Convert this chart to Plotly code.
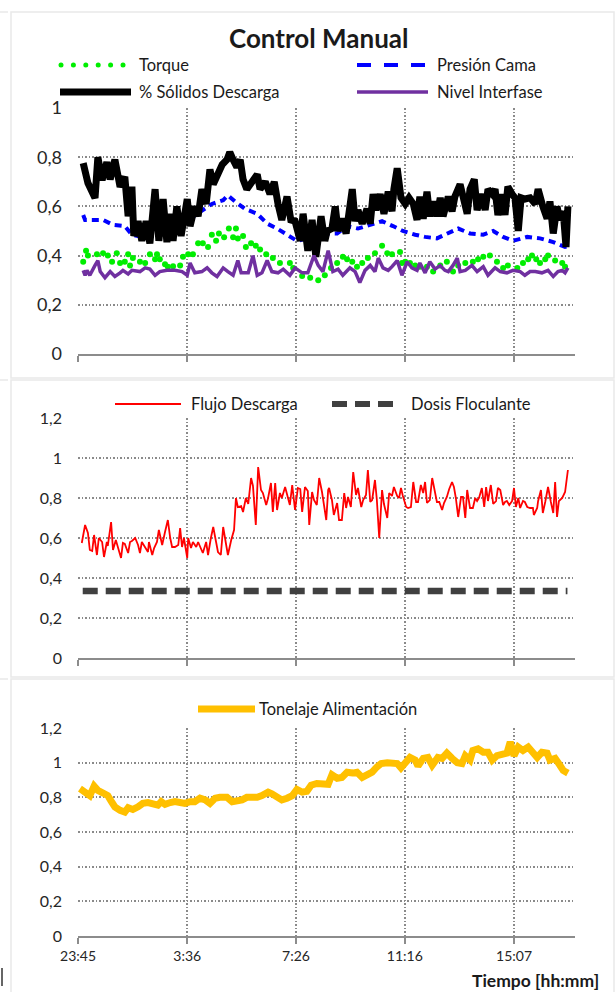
import plotly.graph_objects as go

W, H = 615, 992

# ---- time axis (minutes after 23:45) ----
tick_minutes = [0, 231, 461, 691, 922]
tick_labels = ["23:45", "3:36", "7:26", "11:16", "15:07"]

# ---- panel 1 : Control Manual ----
torque_t = [11, 17, 21, 40, 53, 63, 72, 82, 89, 99, 106, 110, 116, 131, 142, 152, 163, 167, 173, 184,
            190, 201, 216, 222, 233, 243, 254, 264, 275, 283, 292, 298, 309, 319, 328, 334, 338, 349,
            355, 366, 376, 385, 398, 412, 427, 448, 455, 474, 491, 508, 522, 535, 548, 560, 569, 580,
            590, 601, 613, 628, 643, 654, 664, 681, 685, 692, 702, 713, 723, 738, 751, 766, 780, 793,
            804, 819, 835, 846, 857, 871, 886, 899, 909, 929, 941, 952, 960, 969, 977, 988, 994, 1009,
            1024, 1030]
torque = [0.375, 0.42, 0.40, 0.405, 0.41, 0.40, 0.375, 0.41, 0.37, 0.375, 0.405, 0.36, 0.39, 0.375,
          0.37, 0.405, 0.385, 0.405, 0.385, 0.365, 0.355, 0.357, 0.36, 0.395, 0.405, 0.405, 0.45, 0.45,
          0.435, 0.485, 0.46, 0.49, 0.475, 0.51, 0.475, 0.51, 0.47, 0.48, 0.435, 0.45, 0.44, 0.425,
          0.405, 0.39, 0.37, 0.37, 0.35, 0.317, 0.31, 0.30, 0.32, 0.35, 0.37, 0.395, 0.385, 0.375,
          0.355, 0.37, 0.39, 0.41, 0.44, 0.41, 0.405, 0.415, 0.37, 0.375, 0.37, 0.36, 0.355, 0.355,
          0.335, 0.36, 0.375, 0.335, 0.36, 0.37, 0.375, 0.385, 0.395, 0.40, 0.375, 0.35, 0.36, 0.35,
          0.37, 0.385, 0.40, 0.385, 0.37, 0.385, 0.40, 0.38, 0.37, 0.355]

presion_t = [11, 15, 36, 53, 74, 99, 114, 135, 157, 178, 205, 233, 262, 283, 307, 317, 332, 353, 379,
             400, 421, 442, 463, 484, 505, 527, 548, 569, 592, 618, 643, 666, 687, 713, 734, 759, 780,
             804, 829, 857, 878, 899, 920, 950, 977, 1005, 1030, 1041]
presion = [0.565, 0.545, 0.545, 0.545, 0.525, 0.52, 0.485, 0.476, 0.49, 0.495, 0.50, 0.545, 0.585,
           0.61, 0.625, 0.645, 0.62, 0.59, 0.57, 0.53, 0.51, 0.485, 0.46, 0.47, 0.48, 0.49, 0.49,
           0.52, 0.51, 0.525, 0.54, 0.52, 0.50, 0.485, 0.476, 0.47, 0.49, 0.51, 0.49, 0.485, 0.50,
           0.476, 0.46, 0.476, 0.47, 0.455, 0.435, 0.44]

solidos_t = [11, 21, 36, 42, 51, 61, 68, 78, 89, 99, 106, 114, 118, 127, 135, 144, 152, 163, 171, 180,
             188, 195, 201, 209, 218, 231, 237, 247, 254, 262, 271, 279, 286, 296, 305, 315, 321, 328,
             336, 343, 349, 357, 368, 379, 385, 396, 406, 415, 423, 431, 442, 450, 459, 470, 476, 486,
             495, 503, 514, 522, 527, 537, 544, 550, 558, 567, 580, 586, 592, 601, 611, 618, 624, 630,
             639, 647, 656, 664, 668, 675, 683, 692, 700, 709, 717, 723, 730, 738, 744, 751, 759, 766,
             772, 783, 791, 797, 808, 816, 823, 829, 838, 844, 854, 861, 867, 876, 882, 888, 897, 903,
             909, 918, 924, 931, 937, 945, 956, 967, 973, 983, 992, 998, 1005, 1013, 1019, 1026, 1032,
             1036]
solidos = [0.776, 0.695, 0.634, 0.80, 0.707, 0.78, 0.71, 0.79, 0.68, 0.72, 0.56, 0.68, 0.48, 0.54,
           0.46, 0.54, 0.45, 0.67, 0.46, 0.63, 0.455, 0.57, 0.46, 0.60, 0.48, 0.63, 0.52, 0.60, 0.56,
           0.67, 0.61, 0.75, 0.69, 0.73, 0.77, 0.79, 0.82, 0.79, 0.76, 0.79, 0.71, 0.67, 0.695, 0.73,
           0.67, 0.70, 0.65, 0.70, 0.61, 0.545, 0.64, 0.545, 0.54, 0.46, 0.57, 0.42, 0.545, 0.395,
           0.56, 0.46, 0.50, 0.51, 0.60, 0.50, 0.55, 0.49, 0.67, 0.54, 0.585, 0.53, 0.59, 0.53, 0.65,
           0.585, 0.65, 0.57, 0.66, 0.58, 0.67, 0.755, 0.635, 0.61, 0.635, 0.61, 0.545, 0.64, 0.55,
           0.66, 0.56, 0.62, 0.56, 0.635, 0.56, 0.64, 0.58, 0.64, 0.69, 0.635, 0.57, 0.67, 0.71,
           0.585, 0.65, 0.585, 0.67, 0.65, 0.67, 0.565, 0.65, 0.565, 0.68, 0.65, 0.635, 0.50, 0.635,
           0.63, 0.635, 0.61, 0.67, 0.60, 0.55, 0.62, 0.49, 0.60, 0.545, 0.58, 0.435, 0.60]

nivel_t = [11, 15, 19, 25, 36, 42, 47, 57, 68, 78, 89, 95, 106, 114, 131, 142, 152, 163, 173, 188,
           205, 220, 231, 237, 247, 262, 273, 283, 294, 307, 317, 328, 338, 345, 360, 370, 379, 389,
           400, 410, 423, 434, 448, 459, 474, 486, 499, 508, 518, 529, 539, 550, 560, 575, 586, 596,
           607, 618, 628, 635, 645, 656, 664, 675, 685, 696, 706, 717, 723, 734, 744, 755, 766, 776,
           783, 793, 802, 808, 819, 833, 844, 857, 867, 882, 893, 907, 920, 935, 945, 956, 967, 981,
           994, 1005, 1015, 1024, 1030, 1036]
nivel = [0.34, 0.32, 0.34, 0.32, 0.36, 0.38, 0.335, 0.31, 0.335, 0.315, 0.33, 0.34, 0.325, 0.34,
         0.335, 0.35, 0.345, 0.32, 0.335, 0.34, 0.34, 0.335, 0.32, 0.37, 0.33, 0.335, 0.35, 0.33,
         0.315, 0.35, 0.335, 0.32, 0.38, 0.33, 0.33, 0.40, 0.32, 0.33, 0.38, 0.335, 0.33, 0.345,
         0.32, 0.35, 0.33, 0.33, 0.40, 0.36, 0.335, 0.42, 0.335, 0.345, 0.32, 0.35, 0.335, 0.29,
         0.34, 0.36, 0.335, 0.39, 0.35, 0.34, 0.355, 0.38, 0.32, 0.375, 0.35, 0.34, 0.37, 0.33,
         0.375, 0.345, 0.36, 0.34, 0.335, 0.36, 0.39, 0.335, 0.34, 0.36, 0.335, 0.355, 0.32, 0.35,
         0.335, 0.33, 0.34, 0.335, 0.32, 0.335, 0.335, 0.33, 0.34, 0.315, 0.335, 0.34, 0.33, 0.35]

# ---- panel 2 ----
flujo_t = [8, 15, 21, 25, 30, 34, 40, 44, 51, 55, 61, 63, 70, 74, 80, 85, 91, 95, 99, 106, 110, 114,
           121, 127, 131, 135, 142, 148, 150, 157, 161, 167, 171, 178, 184, 190, 195, 199, 205, 212,
           216, 220, 224, 231, 233, 239, 243, 250, 254, 260, 264, 271, 275, 281, 286, 292, 296, 302,
           307, 313, 317, 324, 330, 334, 338, 345, 349, 355, 360, 366, 370, 376, 381, 387, 391, 398,
           402, 408, 412, 417, 421, 427, 431, 438, 444, 448, 453, 459, 465, 470, 474, 480, 486, 489,
           495, 499, 505, 510, 516, 520, 525, 529, 531, 537, 541, 548, 552, 558, 563, 567, 571, 577,
           582, 588, 592, 599, 603, 609, 613, 618, 622, 628, 632, 637, 643, 647, 654, 658, 664, 668,
           675, 679, 683, 687, 694, 698, 704, 709, 715, 719, 725, 730, 734, 738, 744, 749, 755, 759,
           764, 770, 774, 780, 785, 791, 795, 799, 804, 810, 814, 819, 823, 829, 835, 840, 844, 848,
           854, 859, 863, 867, 873, 878, 884, 888, 893, 899, 903, 907, 912, 918, 922, 926, 931, 935,
           941, 945, 950, 956, 962, 964, 971, 973, 979, 983, 988, 994, 1000, 1005, 1009, 1013, 1017,
           1024, 1030, 1036]
flujo = [0.575, 0.665, 0.625, 0.54, 0.535, 0.615, 0.515, 0.60, 0.58, 0.505, 0.58, 0.56, 0.68, 0.54,
         0.59, 0.55, 0.50, 0.575, 0.57, 0.525, 0.58, 0.585, 0.60, 0.565, 0.525, 0.58, 0.55, 0.53,
         0.58, 0.515, 0.55, 0.58, 0.64, 0.565, 0.63, 0.69, 0.60, 0.555, 0.555, 0.565, 0.65, 0.555,
         0.60, 0.50, 0.60, 0.55, 0.58, 0.555, 0.58, 0.55, 0.525, 0.58, 0.515, 0.60, 0.655, 0.58,
         0.53, 0.515, 0.655, 0.57, 0.515, 0.59, 0.64, 0.80, 0.755, 0.76, 0.73, 0.80, 0.77, 0.90,
         0.86, 0.665, 0.955, 0.84, 0.825, 0.765, 0.80, 0.875, 0.73, 0.875, 0.74, 0.825, 0.80, 0.855,
         0.805, 0.765, 0.865, 0.74, 0.85, 0.845, 0.73, 0.855, 0.835, 0.665, 0.83, 0.79, 0.765, 0.90,
         0.83, 0.765, 0.69, 0.84, 0.85, 0.79, 0.715, 0.775, 0.69, 0.69, 0.825, 0.75, 0.805, 0.755,
         0.93, 0.815, 0.85, 0.755, 0.79, 0.815, 0.94, 0.78, 0.79, 0.89, 0.79, 0.60, 0.84, 0.77,
         0.70, 0.825, 0.81, 0.855, 0.81, 0.80, 0.85, 0.81, 0.755, 0.75, 0.755, 0.88, 0.78, 0.78,
         0.865, 0.825, 0.88, 0.775, 0.79, 0.90, 0.825, 0.78, 0.78, 0.74, 0.775, 0.805, 0.845, 0.88,
         0.855, 0.80, 0.705, 0.805, 0.805, 0.70, 0.84, 0.75, 0.75, 0.80, 0.785, 0.80, 0.85, 0.755,
         0.855, 0.785, 0.865, 0.77, 0.785, 0.85, 0.84, 0.765, 0.78, 0.785, 0.765, 0.785, 0.85,
         0.755, 0.80, 0.75, 0.785, 0.78, 0.755, 0.75, 0.75, 0.715, 0.75, 0.785, 0.84, 0.725, 0.78,
         0.855, 0.78, 0.725, 0.88, 0.705, 0.785, 0.80, 0.83, 0.94]

dosis_t = [10, 1035]
dosis = [0.335, 0.335]

# ---- panel 3 ----
tonelaje_t = [4, 15, 25, 34, 42, 53, 63, 72, 78, 89, 99, 106, 116, 127, 137, 148, 159, 169, 176, 184,
              195, 205, 216, 226, 237, 247, 258, 269, 279, 290, 300, 315, 326, 336, 347, 357, 368, 379,
              389, 402, 410, 421, 431, 442, 453, 463, 474, 484, 493, 505, 518, 529, 537, 548, 558, 569,
              580, 590, 601, 611, 622, 632, 641, 654, 664, 675, 683, 692, 702, 713, 719, 730, 740, 749,
              761, 770, 780, 791, 802, 812, 819, 829, 835, 846, 857, 867, 876, 886, 897, 907, 914, 922,
              931, 941, 952, 962, 971, 981, 992, 998, 1009, 1019, 1026, 1036]
tonelaje = [0.85, 0.83, 0.81, 0.865, 0.84, 0.825, 0.81, 0.77, 0.745, 0.725, 0.715, 0.74, 0.73, 0.745,
            0.765, 0.77, 0.765, 0.755, 0.775, 0.76, 0.77, 0.775, 0.77, 0.765, 0.775, 0.775, 0.795,
            0.785, 0.765, 0.795, 0.80, 0.80, 0.775, 0.775, 0.785, 0.80, 0.795, 0.80, 0.81, 0.83, 0.82,
            0.795, 0.785, 0.795, 0.81, 0.845, 0.83, 0.835, 0.87, 0.88, 0.88, 0.875, 0.93, 0.91, 0.915,
            0.945, 0.94, 0.945, 0.915, 0.925, 0.945, 0.975, 0.995, 1.00, 0.995, 0.995, 0.97, 0.995,
            1.03, 1.015, 0.98, 1.025, 1.03, 0.985, 1.03, 1.025, 1.055, 1.025, 1.00, 0.995, 1.04, 1.015,
            1.07, 1.08, 1.06, 1.06, 1.015, 1.04, 1.045, 1.055, 1.12, 1.04, 1.09, 1.07, 1.09, 1.055,
            1.03, 1.06, 1.055, 1.015, 1.025, 0.985, 0.955, 0.94]

FONT = "Lato"
TXT = "#1a1a1a"
GRID = "#8a8a8a"
AXIS = "#8c8c8c"


def px(x):
    return x / W


def py(y):
    return 1 - y / H


X_DOM = [px(78), px(575)]


def xcfg(anchor, labels):
    return dict(domain=X_DOM, range=[0, 1051], anchor=anchor, tickmode="array",
                tickvals=tick_minutes, ticktext=tick_labels, showticklabels=labels,
                showgrid=True, gridcolor=GRID, griddash="1.5px,2px", gridwidth=1.5,
                showline=True, linecolor=AXIS, linewidth=1.6, ticks="outside", ticklen=6,
                tickwidth=1.5, tickcolor=AXIS, zeroline=False, automargin=False,
                tickfont=dict(family=FONT, size=14, color="#262626"))


def ycfg(anchor, top_px, bottom_px, ymax, size):
    return dict(domain=[py(bottom_px), py(top_px)], range=[0, ymax], anchor=anchor,
                tick0=0, dtick=0.2, showgrid=True, gridcolor=GRID, griddash="1.5px,2px",
                gridwidth=1.5, showline=False, zeroline=False, ticks="",
                ticklabelstandoff=15, automargin=False,
                tickfont=dict(family=FONT, size=size, color="#262626"))


fig = go.Figure()

# panel 1 series
fig.add_trace(go.Scatter(x=torque_t, y=torque, mode="markers", xaxis="x", yaxis="y",
                         marker=dict(size=6, color="#00ee00"), name="Torque"))
fig.add_trace(go.Scatter(x=presion_t, y=presion, mode="lines", xaxis="x", yaxis="y",
                         line=dict(color="#0000ff", width=4, dash="7px,5px"), name="Presión Cama"))
fig.add_trace(go.Scatter(x=solidos_t, y=solidos, mode="lines", xaxis="x", yaxis="y",
                         line=dict(color="#000000", width=7), name="% Sólidos Descarga"))
fig.add_trace(go.Scatter(x=nivel_t, y=nivel, mode="lines", xaxis="x", yaxis="y",
                         line=dict(color="#7030a0", width=3.5), name="Nivel Interfase"))

# panel 2 series
fig.add_trace(go.Scatter(x=flujo_t, y=flujo, mode="lines", xaxis="x2", yaxis="y2",
                         line=dict(color="#ff0000", width=1.8), name="Flujo Descarga"))
fig.add_trace(go.Scatter(x=dosis_t, y=dosis, mode="lines", xaxis="x2", yaxis="y2",
                         line=dict(color="#404040", width=6.5, dash="15px,8px"),
                         name="Dosis Floculante"))

# panel 3 series
fig.add_trace(go.Scatter(x=tonelaje_t, y=tonelaje, mode="lines", xaxis="x3", yaxis="y3",
                         line=dict(color="#ffc000", width=7), name="Tonelaje Alimentación"))

shapes = []
annotations = []


def hline(x0, x1, y, color, width, dash=None):
    d = dict(type="line", xref="paper", yref="paper", x0=px(x0), x1=px(x1), y0=py(y), y1=py(y),
             line=dict(color=color, width=width))
    if dash:
        d["line"]["dash"] = dash
    shapes.append(d)


def label(x, y, text, size=16.5, bold=False, anchor="left"):
    annotations.append(dict(xref="paper", yref="paper", x=px(x), y=py(y), text=text,
                            showarrow=False, xanchor=anchor, yanchor="middle",
                            font=dict(family=FONT, size=size, color=TXT,
                                      weight="bold" if bold else "normal")))


# panel frames
BORDER = "#e9e9e9"
for top, bottom in [(12, 378), (380, 677), (679, 993)]:
    shapes.append(dict(type="rect", xref="paper", yref="paper", x0=px(11), x1=px(614),
                       y0=py(bottom), y1=py(top), line=dict(color=BORDER, width=1.5)))
    hline(0, 8, top, BORDER, 1.5)
shapes.append(dict(type="line", xref="paper", yref="paper", x0=px(2), x1=px(2),
                   y0=py(968), y1=py(986), line=dict(color="#333333", width=1.5)))

# title
label(318, 38, "Control Manual", size=26, bold=True, anchor="center")

# panel 1 legend
for i in range(6):
    cx = 61 + 12.4 * i
    shapes.append(dict(type="circle", xref="paper", yref="paper", x0=px(cx - 2.5), x1=px(cx + 2.5),
                       y0=py(65 + 2.5), y1=py(65 - 2.5), fillcolor="#00ee00",
                       line=dict(width=0)))
label(137, 65, "Torque")
hline(357, 426, 65, "#0000ff", 4, "14px,13px")
label(435, 65, "Presión Cama")
hline(60, 131, 92, "#000000", 7)
label(137, 92, "% Sólidos Descarga")
hline(357, 428, 92, "#7030a0", 3.5)
label(435, 92, "Nivel Interfase")

# panel 2 legend
hline(115, 181, 404, "#ff0000", 2)
label(189, 404, "Flujo Descarga")
hline(332, 394, 404, "#404040", 6, "15px,8px")
label(409, 404, "Dosis Floculante")

# panel 3 legend
hline(198, 255, 709, "#ffc000", 7)
label(257, 709, "Tonelaje Alimentación")

# axis title
label(601, 980, "Tiempo [hh:mm]", size=17.5, bold=True, anchor="right")

fig.update_layout(
    width=W, height=H, margin=dict(l=0, r=0, t=0, b=0),
    paper_bgcolor="white", plot_bgcolor="white",
    showlegend=False, separators=", ",
    font=dict(family=FONT, color=TXT),
    xaxis=xcfg("y", False), yaxis=ycfg("x", 108, 354, 1.0, 18),
    xaxis2=xcfg("y2", False), yaxis2=ycfg("x2", 418, 658, 1.2, 16),
    xaxis3=xcfg("y3", True), yaxis3=ycfg("x3", 728, 936, 1.2, 16),
    shapes=shapes, annotations=annotations,
)

fig.write_html("out.html")
